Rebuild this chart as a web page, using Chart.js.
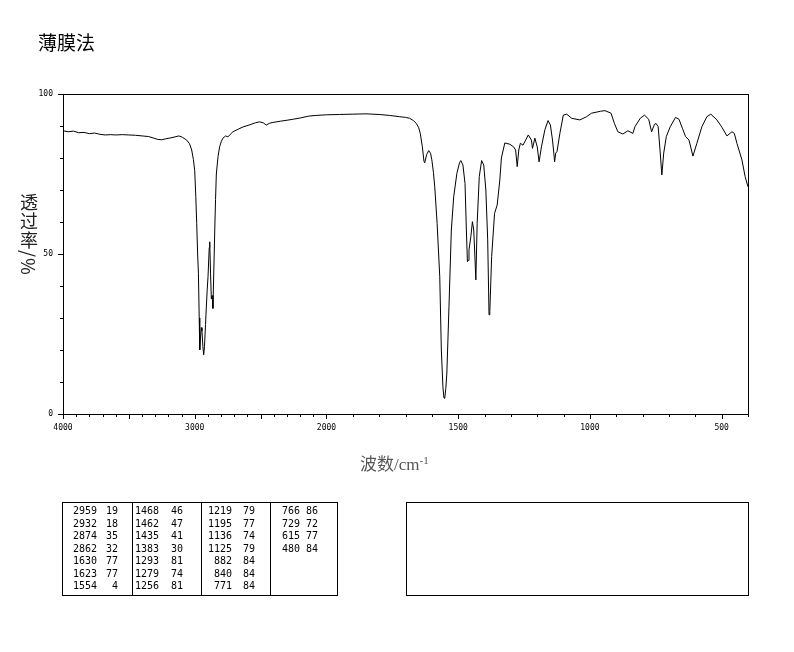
<!DOCTYPE html>
<html>
<head>
<meta charset="utf-8">
<title>薄膜法</title>
<script src="https://cdn.jsdelivr.net/npm/chart.js@4/dist/chart.umd.min.js"></script>
<style>
	body{margin:0;background:#fff;}
	#wrap{position:relative;width:794px;height:652px;overflow:hidden;}
	#chart{position:absolute;left:0;top:0;}
	.title{position:absolute;left:38px;top:31px;font:19px/22px "Noto Sans CJK SC",sans-serif;color:#000;}
	.ylab{position:absolute;left:19px;top:193px;writing-mode:vertical-rl;text-orientation:mixed;font:18px/20px "Noto Sans CJK SC",sans-serif;letter-spacing:1px;color:#222;}
	.xlab{position:absolute;left:360px;top:450px;font:17px/20px "Liberation Serif","Noto Sans CJK SC",serif;color:#555;}
	.xlab sup{font-size:11px;vertical-align:6px;}
	.box{position:absolute;border:1px solid #000;box-sizing:border-box;}
	.vline{position:absolute;top:502px;width:1px;height:93px;background:#000;}
	.cell{position:absolute;font:10px/12px "DejaVu Sans Mono",monospace;color:#000;text-align:right;}
</style>
</head>
<body>
<div id="wrap">
	<canvas id="chart" width="794" height="652"></canvas>
	<div class="title">薄膜法</div>
	<div class="ylab">透过率/%</div>
	<div class="xlab">波数/cm<sup>-1</sup></div>
	<div class="box" style="left:62px;top:502px;width:276px;height:94px;"></div>
	<div class="box" style="left:406px;top:502px;width:343px;height:94px;"></div>
	<div id="table"></div>
</div>
<script>
(function(){
	// spectrum, wavenumber (cm-1) and transmittance (%)
	const wavenumbers = [
		4000,3960,3920,3880,3840,3800,3760,3720,3680,3640,3600,3550,3500,3450,3400,3350,3310,3280,3250,3220,
		3180,3150,3120,3095,3061,3040,3023,3010,3000,2992,2985,2978,2972,2966,2962,2956,2950,2945,2938,2932,
		2926,2918,2912,2905,2899,2890,2886,2880,2874,2868,2862,2855,2848,2842,2836,2823,2811,2798,2786,2765,
		2748,2730,2710,2670,2634,2580,2540,2508,2480,2457,2430,2407,2350,2300,2255,2200,2134,2080,2000,1950,
		1900,1850,1800,1760,1722,1700,1684,1670,1659,1650,1644,1636,1630,1627,1620,1612,1605,1600,1594,1589,
		1580,1570,1564,1558,1554,1551,1547,1543,1535,1526,1517,1505,1495,1490,1482,1474,1469,1465,1462,1459,
		1452,1446,1441,1437,1433,1428,1420,1411,1403,1395,1388,1383,1380,1373,1362,1352,1342,1336,1323,1304,
		1290,1282,1276,1270,1264,1254,1234,1222,1218,1209,1200,1193,1184,1171,1159,1150,1142,1137,1134,1130,
		1125,1114,1101,1088,1069,1038,1013,994,960,943,920,907,894,875,856,837,829,809,793,777,
		766,755,749,741,734,727,720,710,695,675,662,649,637,624,609,594,575,556,541,518,
		499,480,461,452,442,423,411,400
	];
	const transmittance = [
		88.5,88.2,88.4,87.9,88.0,87.6,87.8,87.4,87.2,87.3,87.2,87.3,87.2,87.1,86.9,86.7,86.2,85.8,85.7,86.0,
		86.3,86.6,86.9,86.5,85.6,84.5,82.5,79.5,76.0,68.0,59.6,50.0,44.0,30.0,20.0,24.0,27.0,26.0,21.0,18.5,
		21.0,28.0,33.4,39.0,43.0,52.0,53.8,44.0,36.0,37.0,33.0,45.0,57.5,67.0,75.0,80.5,83.5,85.2,86.2,86.9,
		86.6,87.4,88.2,89.0,89.7,90.4,91.0,91.3,91.0,90.3,90.9,91.1,91.5,91.8,92.1,92.5,93.1,93.3,93.5,93.6,
		93.7,93.8,93.6,93.3,92.9,92.7,92.4,91.7,90.8,89.5,87.7,83.5,79.0,78.5,81.0,82.3,81.5,79.4,75.5,71.0,
		59.6,42.9,20.0,8.5,5.0,4.9,8.0,12.8,33.5,57.5,67.9,75.2,78.5,79.2,77.8,72.0,57.5,47.6,48.0,51.3,
		55.4,60.1,57.5,50.0,41.9,59.6,74.2,79.2,77.8,70.0,54.4,31.0,32.0,49.2,62.7,65.3,73.1,80.0,84.7,84.3,
		83.5,82.5,77.3,82.5,84.6,84.0,87.2,85.6,83.0,86.2,83.5,78.8,83.5,88.8,91.7,90.3,85.6,81.5,78.8,81.5,
		82.0,87.7,93.4,93.7,92.4,91.9,92.9,94.0,94.6,94.8,94.0,90.8,88.2,87.5,88.5,87.7,89.8,92.4,93.4,92.1,
		88.2,90.5,90.8,89.8,82.5,74.7,81.5,86.7,89.8,92.7,92.1,89.3,86.7,85.6,80.6,84.6,89.8,92.9,93.7,91.9,
		89.6,86.9,88.2,87.7,84.6,79.4,74.2,71.0
	];

	// peak table (4 columns of 7 rows)
	const peakWavenumbers = [2959,2932,2874,2862,1630,1623,1554, 1468,1462,1435,1383,1293,1279,1256, 1219,1195,1136,1125,882,840,771, 766,729,615,480];
	const peakValues      = [19,18,35,32,77,77,4, 46,47,41,30,81,74,81, 79,77,74,79,84,84,84, 86,72,77,84];

	const xLabels = [4000,3000,2000,1500,1000,500];
	const yLabels = [0,50,100];

	const WN_MAX = 4000, WN_BREAK = 2000, WN_MIN = 400;
	const HIGH_SPAN = (WN_MAX - WN_BREAK) / 2;          // 4000-2000 drawn at half scale
	const TOTAL_SPAN = HIGH_SPAN + (WN_BREAK - WN_MIN);

	function wnToFrac(w){
		const u = w >= WN_BREAK ? (WN_MAX - w) / 2 : HIGH_SPAN + (WN_BREAK - w);
		return u / TOTAL_SPAN;
	}
	function fracToWn(f){
		const u = f * TOTAL_SPAN;
		return u <= HIGH_SPAN ? WN_MAX - u * 2 : WN_BREAK - (u - HIGH_SPAN);
	}

	class IRScale extends Chart.LinearScale {
		getPixelForValue(value){
			if(value === null || value === undefined || isNaN(value)) return NaN;
			return this.left + wnToFrac(value) * this.width;
		}
		getValueForPixel(pixel){
			return fracToWn((pixel - this.left) / this.width);
		}
	}
	IRScale.id = 'irscale';
	IRScale.defaults = Chart.LinearScale.defaults;
	Chart.register(IRScale);

	const xTicks = [];
	for(let v = WN_MAX; v >= WN_MIN; v -= 100) xTicks.push(v);
	const yTicks = [];
	for(let v = 0; v <= 100; v += 10) yTicks.push(v);

	// frame + outward tick marks (longer on major values)
	const framePlugin = {
		id: 'frame',
		afterDraw(chart){
			const c = chart.ctx, a = chart.chartArea;
			const xs = chart.scales.x, ys = chart.scales.y;
			c.save();
			c.strokeStyle = '#000';
			c.lineWidth = 1;
			c.strokeRect(Math.round(a.left) + 0.5, Math.round(a.top) + 0.5, Math.round(a.right - a.left), Math.round(a.bottom - a.top));
			c.beginPath();
			xs.ticks.forEach(t => {
				const px = Math.round(xs.getPixelForValue(t.value)) + 0.5;
				const len = t.value % 500 === 0 ? 5 : 3;
				c.moveTo(px, a.bottom); c.lineTo(px, a.bottom + len);
			});
			ys.ticks.forEach(t => {
				const py = Math.round(ys.getPixelForValue(t.value)) + 0.5;
				const len = t.value % 50 === 0 ? 5 : 3;
				c.moveTo(a.left, py); c.lineTo(a.left - len, py);
			});
			c.stroke();
			c.restore();
		}
	};

	const tickFont = { family: 'DejaVu Sans Mono', size: 8 };

	new Chart(document.getElementById('chart'), {
		type: 'line',
		data: {
			datasets: [{
				data: wavenumbers.map((w, i) => ({ x: w, y: transmittance[i] })),
				borderColor: '#000',
				borderWidth: 1,
				pointRadius: 0,
				tension: 0,
				fill: false
			}]
		},
		options: {
			responsive: false,
			animation: false,
			devicePixelRatio: 1,
			parsing: false,
			layout: { padding: { left: 0, right: 46, top: 94, bottom: 218 } },
			plugins: { legend: { display: false }, tooltip: { enabled: false } },
			scales: {
				x: {
					type: 'irscale', min: WN_MIN, max: WN_MAX,
					afterFit: s => { s.height = 20; },
					afterBuildTicks: s => { s.ticks = xTicks.map(v => ({ value: v })); },
					grid: { display: false, drawTicks: false },
					border: { display: false },
					ticks: {
						autoSkip: false, maxRotation: 0, padding: 9, color: '#000', font: tickFont,
						callback: v => xLabels.includes(v) ? String(v) : ''
					}
				},
				y: {
					type: 'linear', min: 0, max: 100,
					afterFit: s => { s.width = 63; },
					afterBuildTicks: s => { s.ticks = yTicks.map(v => ({ value: v })); },
					grid: { display: false, drawTicks: false },
					border: { display: false },
					ticks: {
						padding: 10, color: '#000', font: tickFont,
						callback: v => yLabels.includes(v) ? String(v) : ''
					}
				}
			}
		},
		plugins: [framePlugin]
	});

	// peak table
	const cols = [
		{ left: 62, num: 35, val: 56 },
		{ left: 132, num: 27, val: 51 },
		{ left: 201, num: 31, val: 54 },
		{ left: 270, num: 30, val: 48 }
	];
	const table = document.getElementById('table');
	[132, 201, 270].forEach(x => {
		const d = document.createElement('div'); d.className = 'vline'; d.style.left = x + 'px'; table.appendChild(d);
	});
	peakWavenumbers.forEach((w, i) => {
		const col = cols[Math.floor(i / 7)];
		const top = 505 + (i % 7) * 12.5;
		const a = document.createElement('div'); a.className = 'cell';
		a.style.left = (col.left + col.num - 40) + 'px'; a.style.width = '40px'; a.style.top = top + 'px';
		a.textContent = w;
		const b = document.createElement('div'); b.className = 'cell';
		b.style.left = (col.left + col.val - 20) + 'px'; b.style.width = '20px'; b.style.top = top + 'px';
		b.textContent = peakValues[i];
		table.appendChild(a); table.appendChild(b);
	});
})();
</script>
</body>
</html>
